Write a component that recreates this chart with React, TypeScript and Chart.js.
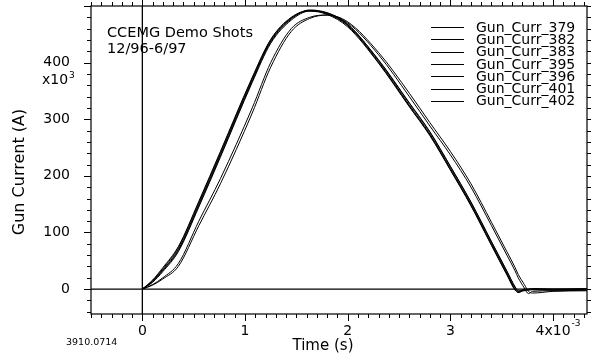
import React, { useEffect, useRef } from 'react';
import { Chart, registerables } from 'chart.js';

Chart.register(...registerables);

// time in ms (axis shows ×10^-3 s)
const timeMs = [0, 0.1, 0.2, 0.35, 0.55, 0.76, 1.07, 1.25, 1.45, 1.63, 1.8, 2.0, 2.3, 2.6, 2.8, 3.0, 3.2, 3.4, 3.55, 3.63, 3.66, 3.72, 3.76, 3.8, 4.0, 4.33];

// current in kA (axis shows ×10^3 A)
const gunCurr379 = [0, 14, 34, 70, 150, 238, 370, 438, 478, 492, 487, 466, 402, 325, 274, 213, 150, 80, 28, 0, -6, -1, -1, 0, -1, 0];
const gunCurr382 = [0, 15, 36, 73, 153, 241, 372, 440, 479, 491, 485, 463, 399, 322, 271, 210, 147, 77, 25, -2, -5, 0, 0, 1, 0, 1];
const gunCurr383 = [0, 8, 20, 45, 120, 195, 320, 400, 460, 480, 484, 470, 414, 340, 288, 237, 180, 112, 60, 32, 20, 2, -8, -4, -3, -2];
const gunCurr395 = [0, 13, 33, 68, 147, 235, 367, 436, 477, 493, 488, 468, 404, 328, 277, 216, 153, 83, 31, 3, -4, -2, -1, -1, -2, -1];
const gunCurr396 = [0, 7, 18, 40, 112, 186, 311, 392, 455, 478, 484, 472, 418, 346, 294, 243, 186, 118, 66, 38, 26, 8, -4, -7, -4, -3];
const gunCurr401 = [0, 16, 38, 75, 155, 243, 374, 441, 480, 492, 486, 465, 400, 323, 272, 211, 148, 78, 26, -1, -6, -2, 0, 0, 0, 0];
const gunCurr402 = [0, 12, 31, 66, 145, 233, 365, 434, 475, 491, 488, 467, 405, 329, 278, 217, 154, 84, 32, 4, -3, -3, -2, -1, -1, -1];

const seriesLabels = ['Gun_Curr_379', 'Gun_Curr_382', 'Gun_Curr_383', 'Gun_Curr_395', 'Gun_Curr_396', 'Gun_Curr_401', 'Gun_Curr_402'];
const seriesValues = [gunCurr379, gunCurr382, gunCurr383, gunCurr395, gunCurr396, gunCurr401, gunCurr402];

const xTickValues = [0, 1, 2, 3, 4];
const xTickLabels = ['0', '1', '2', '3', '4x10'];
const yTickValues = [0, 100, 200, 300, 400];

const X_MIN = -0.5;
const X_MAX = 4.33;
const Y_MIN = -44;
const Y_MAX = 500;

const titleLines = ['CCEMG Demo Shots', '12/96-6/97'];
const xTitle = 'Time (s)';
const yTitle = 'Gun Current (A)';
const docId = '3910.0714';

const FONT = 'DejaVu Sans';

const decorPlugin = {
  id: 'decor',
  beforeDatasetsDraw(chart: any) {
    const { ctx, chartArea: a, scales } = chart;
    const x0 = scales.x.getPixelForValue(0);
    const y0 = scales.y.getPixelForValue(0);
    ctx.save();
    ctx.strokeStyle = '#000';
    ctx.lineWidth = 1.3;
    ctx.beginPath();
    ctx.moveTo(a.left, y0);
    ctx.lineTo(a.right, y0);
    ctx.moveTo(x0, a.top);
    ctx.lineTo(x0, a.bottom);
    ctx.stroke();
    ctx.restore();
  },
  afterDraw(chart: any) {
    const { ctx, chartArea: a, scales, data } = chart;
    const xs = scales.x;
    const ys = scales.y;
    ctx.save();
    ctx.strokeStyle = '#000';
    ctx.fillStyle = '#000';
    ctx.lineWidth = 1.2;
    ctx.strokeRect(a.left, a.top, a.right - a.left, a.bottom - a.top);

    // outward ticks
    ctx.lineWidth = 1;
    ctx.beginPath();
    for (let i = -5; i <= 43; i++) {
      const v = i / 10;
      const px = Math.round(xs.getPixelForValue(v)) + 0.5;
      const len = i % 10 === 0 ? 7 : 4;
      ctx.moveTo(px, a.bottom);
      ctx.lineTo(px, a.bottom + len);
      ctx.moveTo(px, a.top);
      ctx.lineTo(px, a.top - len);
    }
    for (let i = -2; i <= 25; i++) {
      const v = i * 20;
      const py = Math.round(ys.getPixelForValue(v)) + 0.5;
      const len = v % 100 === 0 ? 7 : 4;
      ctx.moveTo(a.left, py);
      ctx.lineTo(a.left - len, py);
      ctx.moveTo(a.right, py);
      ctx.lineTo(a.right + len, py);
    }
    ctx.stroke();

    // exponent notes
    ctx.textBaseline = 'alphabetic';
    ctx.textAlign = 'left';
    ctx.font = `14px "${FONT}"`;
    const p400 = ys.getPixelForValue(400);
    ctx.fillText('x10', 42, p400 + 21);
    const w = ctx.measureText('x10').width;
    ctx.font = `9px "${FONT}"`;
    ctx.fillText('3', 42 + w + 1, p400 + 15);

    ctx.font = `14px "${FONT}"`;
    const w4 = ctx.measureText('4x10').width;
    const p4 = xs.getPixelForValue(4);
    ctx.font = `9px "${FONT}"`;
    ctx.fillText('-3', p4 + w4 / 2 + 1, a.bottom + 12);

    // title
    ctx.font = `14.5px "${FONT}"`;
    ctx.fillText(titleLines[0], 107, 37);
    ctx.fillText(titleLines[1], 107, 53);

    // legend
    ctx.font = `14px "${FONT}"`;
    ctx.textBaseline = 'middle';
    data.datasets.forEach((ds: any, i: number) => {
      const y = 27 + i * 12.3;
      ctx.beginPath();
      ctx.lineWidth = 1;
      ctx.moveTo(431, Math.round(y) + 0.5);
      ctx.lineTo(464, Math.round(y) + 0.5);
      ctx.stroke();
      ctx.fillText(ds.label, 476, y + 1);
    });

    // axis titles
    ctx.textAlign = 'center';
    ctx.textBaseline = 'middle';
    ctx.font = `15px "${FONT}"`;
    ctx.fillText(xTitle, 323, 346);
    ctx.save();
    ctx.translate(20, 172);
    ctx.rotate(-Math.PI / 2);
    ctx.font = `16px "${FONT}"`;
    ctx.fillText(yTitle, 0, 0);
    ctx.restore();

    ctx.textAlign = 'left';
    ctx.font = `9.5px "${FONT}"`;
    ctx.fillText(docId, 66, 343);
    ctx.restore();
  },
};

export default function App() {
  const ref = useRef<HTMLCanvasElement>(null);
  useEffect(() => {
    if (!ref.current) return;
    const chart = new Chart(ref.current, {
      type: 'line',
      data: {
        datasets: seriesValues.map((vals, k) => ({
          label: seriesLabels[k],
          data: timeMs.map((t, i) => ({ x: t, y: vals[i] })),
          borderColor: '#000',
          borderWidth: 1,
          pointRadius: 0,
          fill: false,
          cubicInterpolationMode: 'monotone' as const,
        })),
      },
      options: {
        animation: false,
        responsive: false,
        devicePixelRatio: 1,
        layout: { padding: { top: 6, right: 4, left: 0, bottom: 0 } },
        plugins: { legend: { display: false }, tooltip: { enabled: false } },
        scales: {
          x: {
            type: 'linear',
            min: X_MIN,
            max: X_MAX,
            grid: { display: false },
            border: { display: false },
            afterBuildTicks: (s: any) => {
              s.ticks = xTickValues.map((v) => ({ value: v }));
            },
            afterFit: (s: any) => {
              s.height = 42;
            },
            ticks: {
              autoSkip: false,
              maxRotation: 0,
              padding: 1,
              color: '#000',
              font: { family: FONT, size: 14 },
              callback: (v: any) => {
                const idx = xTickValues.indexOf(Number(v));
                return idx >= 0 ? xTickLabels[idx] : '';
              },
            },
          },
          y: {
            type: 'linear',
            min: Y_MIN,
            max: Y_MAX,
            grid: {
              display: true,
              drawOnChartArea: false,
              drawTicks: true,
              tickLength: 21,
              tickColor: 'rgba(0,0,0,0)',
            },
            border: { display: false },
            afterBuildTicks: (s: any) => {
              s.ticks = yTickValues.map((v) => ({ value: v }));
            },
            afterFit: (s: any) => {
              s.width = 91;
            },
            ticks: {
              padding: 0,
              color: '#000',
              font: { family: FONT, size: 14, lineHeight: 0.5 },
              callback: (v: any) => String(v),
            },
          },
        },
      },
      plugins: [decorPlugin],
    });
    return () => chart.destroy();
  }, []);
  return (
    <div style={{ position: 'fixed', left: 0, top: 0, width: 591, height: 356, background: '#fff' }}>
      <canvas ref={ref} width={591} height={356} style={{ display: 'block' }} />
    </div>
  );
}
